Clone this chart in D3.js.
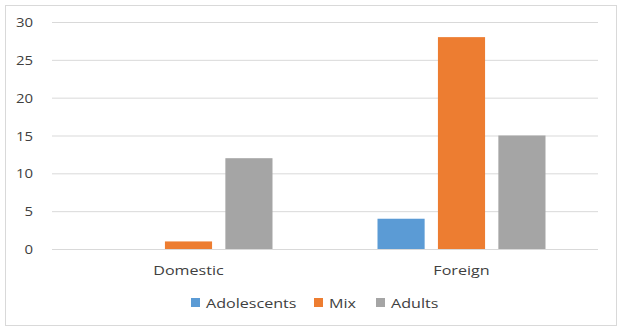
<!DOCTYPE html>
<html>
<head>
<meta charset="utf-8">
<script src="https://cdn.jsdelivr.net/npm/d3@7"></script>
<style>
  html, body { margin: 0; padding: 0; background: #fff; }
  svg text { font-family: "Open Sans", "DejaVu Sans", sans-serif; fill: #404040; }
</style>
</head>
<body>
<svg id="chart" width="623" height="333"></svg>
<script>
// Chart data
const categories = ["Domestic", "Foreign"];
const seriesNames = ["Adolescents", "Mix", "Adults"];
const adolescents = [0, 4];
const mix = [1, 28];
const adults = [12, 15];
const yTicks = [0, 5, 10, 15, 20, 25, 30];
const colors = ["#5B9BD5", "#ED7D31", "#A5A5A5"];

const seriesValues = [adolescents, mix, adults];

const svg = d3.select("#chart");
const W = 623, H = 333;
const margin = { left: 52, right: 25, top: 22, bottom: 84 };

// Outer frame
svg.append("rect")
  .attr("x", 5.5).attr("y", 5.5)
  .attr("width", 611).attr("height", 320)
  .attr("fill", "#fff").attr("stroke", "#D9D9D9").attr("stroke-width", 1);

const x0 = d3.scaleBand()
  .domain(categories)
  .range([margin.left, W - margin.right])
  .paddingInner(0).paddingOuter(0);

const y = d3.scaleLinear()
  .domain([0, 30])
  .range([249, 22]);

const x1 = d3.scaleBand()
  .domain(seriesNames)
  .range([0, 168])
  .paddingInner(0.22);

// Gridlines and y labels
const yAxis = d3.axisLeft(y).tickValues(yTicks).tickSize(-(W - margin.right - margin.left)).tickPadding(19);
const gy = svg.append("g").attr("transform", `translate(${margin.left},0)`).call(yAxis);
gy.select(".domain").remove();
gy.selectAll(".tick line").attr("stroke", "#D9D9D9").attr("stroke-width", 1);
gy.selectAll(".tick text")
  .attr("font-size", 13)
  .style("fill", "#404040")
  .attr("dy", "0.35em")
  .attr("transform", "scale(1.15,1)")
  .attr("x", -19 / 1.15);

// Bars
const groups = svg.append("g").selectAll("g")
  .data(categories)
  .join("g")
  .attr("transform", d => `translate(${x0(d) + x0.bandwidth() / 2 - 84},0)`);

groups.selectAll("rect")
  .data((c, ci) => seriesNames.map((s, si) => ({ s, si, v: seriesValues[si][ci] })))
  .join("rect")
  .attr("x", d => x1(d.s))
  .attr("width", x1.bandwidth())
  .attr("y", d => y(d.v))
  .attr("height", d => y(0) - y(d.v))
  .attr("fill", d => colors[d.si]);

// Category labels
svg.append("g").selectAll("text")
  .data(categories)
  .join("text")
  .attr("transform", d => `translate(${x0(d) + x0.bandwidth() / 2},275) scale(1.24,1)`)
  .attr("text-anchor", "middle")
  .attr("font-size", 13)
  .text(d => d);

// Legend
const legendX = [191, 314, 376];
const leg = svg.append("g").selectAll("g")
  .data(seriesNames)
  .join("g")
  .attr("transform", (d, i) => `translate(${legendX[i]},298)`);
leg.append("rect")
  .attr("width", 9).attr("height", 9)
  .attr("fill", (d, i) => colors[i]);
leg.append("text")
  .attr("transform", "translate(15,9.5) scale(1.24,1)")
  .attr("font-size", 13)
  .text(d => d);
</script>
</body>
</html>
